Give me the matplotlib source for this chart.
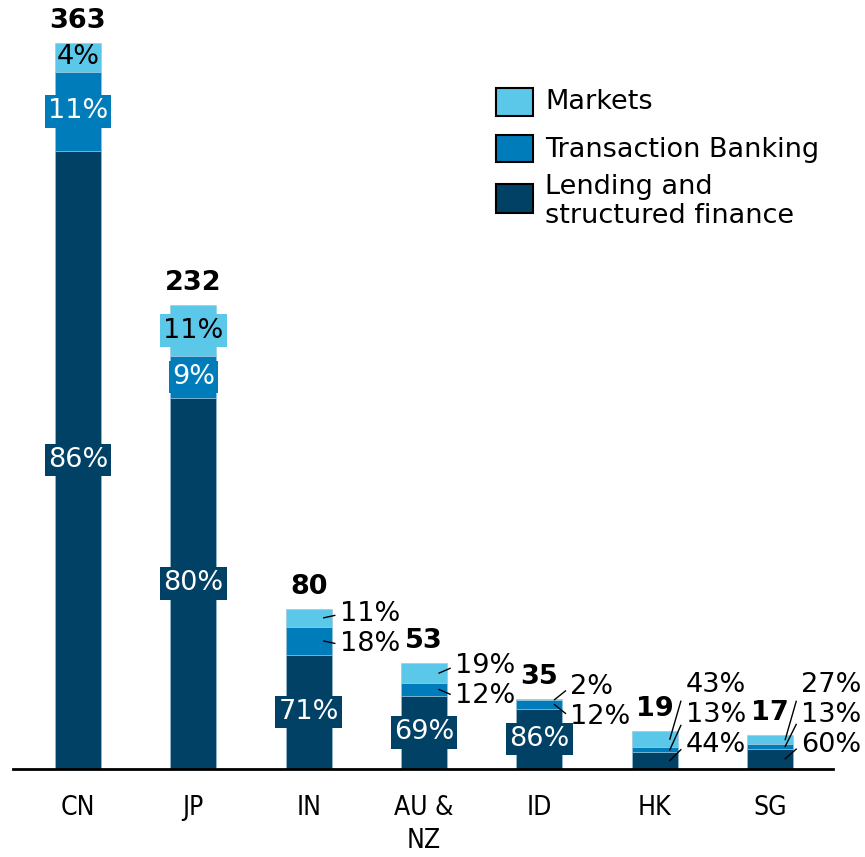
import matplotlib
matplotlib.use('Agg')
import matplotlib.pyplot as plt
from matplotlib.patches import Rectangle

# data (revenue pool by country, segment mix in %)
countries = ['CN', 'JP', 'IN', 'AU &\nNZ', 'ID', 'HK', 'SG']
totals = [363, 232, 80, 53, 35, 19, 17]
lending = [86, 80, 71, 69, 86, 44, 60]
transaction = [11, 9, 18, 12, 12, 13, 13]
markets = [4, 11, 11, 19, 2, 43, 27]

seg_names = ['Lending and\nstructured finance', 'Transaction Banking', 'Markets']
seg_colors = ['#004165', '#007CBA', '#5BC8E9']
seg_text = ['white', 'white', 'black']

W, H = 865, 857
FS = 19.5

fig = plt.figure(figsize=(W / 100, H / 100), dpi=100)
ax = fig.add_axes([13 / W, 88 / H, (833 - 13) / W, 769 / H])
ax.set_xlim(-0.563, 6.545)
ax.set_ylim(0, 384.5)

width = 0.4
px_x = 1 / 115.5   # data units per pixel, x

for i, total in enumerate(totals):
    pcts = [lending[i], transaction[i], markets[i]]
    s = sum(pcts)
    heights = [total * p / s for p in pcts]
    bottom = 0
    centers = []
    for k in range(3):
        ax.bar(i, heights[k], width, bottom=bottom, color=seg_colors[k],
               edgecolor='#9cc3d8', linewidth=0.4)
        centers.append(bottom + heights[k] / 2)
        bottom += heights[k]

    # total on top
    ax.annotate(str(total), (i, total), xytext=(0, 16), textcoords='offset points',
                ha='center', va='center', fontsize=FS, fontweight='bold')

    # which labels fit inside the bar
    dark_inside = heights[0] >= 25
    rest_inside = min(heights[1], heights[2]) >= 12
    inside = [dark_inside, rest_inside, rest_inside]

    outside = [k for k in range(3) if not inside[k]]
    for k in range(3):
        if inside[k]:
            box = None
            if heights[k] >= 16:
                box = dict(boxstyle='square,pad=0.12', facecolor=seg_colors[k],
                           edgecolor='none')
            ax.text(i, centers[k], f'{pcts[k]}%', ha='center', va='center',
                    fontsize=FS, color=seg_text[k], bbox=box)

    if outside:
        # spread side labels apart, keep them above the axis
        ys = [centers[k] for k in outside]
        gap = 15
        n = len(ys)
        mid = sum(ys) / n
        lab = [mid + (j - (n - 1) / 2) * gap for j in range(n)]
        if lab[0] < 12:
            lab = [l + 12 - lab[0] for l in lab]
        right = i + width / 2
        for k, ly in zip(outside, lab):
            sy = centers[k]
            ey = ly + 0.3 * (sy - ly)
            ax.plot([right - 8 * px_x, right + 3 * px_x], [sy, ey],
                    color='black', lw=1)
            ax.text(right + 8 * px_x, ly, f'{pcts[k]}%', ha='left', va='center',
                    fontsize=FS)

ax.set_xticks(range(len(countries)), countries)
ax.tick_params(axis='x', length=0, pad=19, labelsize=19)
for t in ax.get_xticklabels():
    t.set_fontstretch('condensed')
    t.set_linespacing(1.32)
ax.set_yticks([])
for sp in ['top', 'left', 'right']:
    ax.spines[sp].set_visible(False)
ax.spines['bottom'].set_linewidth(2)


# legend drawn by hand
def fpos(x, y):
    return x / W, 1 - y / H


leg = [(2, 88, 116, 102), (1, 135, 162, 150), (0, 184, 213, 201.5)]
for k, y0, y1, yc in leg:
    fig.add_artist(Rectangle(fpos(496, y1), 37 / W, (y1 - y0) / H,
                             transform=fig.transFigure, facecolor=seg_colors[k],
                             edgecolor='black', linewidth=1.5))
    fig.text(*fpos(545, yc), seg_names[k], ha='left', va='center',
             fontsize=FS, linespacing=1.15)

fig.savefig('out.png', dpi=100)
